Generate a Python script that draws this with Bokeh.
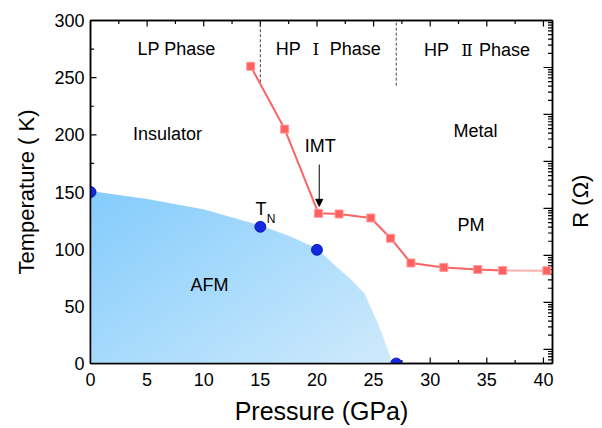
import math
import numpy as np
from bokeh.plotting import figure
from bokeh.layouts import row
from bokeh.models import (Range1d, LogScale, LogAxis, LinearAxis,
                          FixedTicker, Arrow, NormalHead, CustomJSTickFormatter)
from bokeh.core.properties import value
from bokeh.embed import file_html
from bokeh.resources import INLINE

# ---------------- data ----------------
# resistance (right, log axis)
pressure_R = [14.15, 17.15, 20.13, 21.95, 24.76, 26.5, 28.3, 31.2, 34.2, 36.4, 40.3]
resistance = [1.06e6, 4.88e4, 785, 762, 626, 232, 68.9, 55.5, 50.3, 47.9, 47.2]
# Neel temperature points
pressure_TN = [0, 15, 20, 27]
temp_TN = [150, 119.6, 99.4, 0]
# AFM region boundary
afm_P = [0, 5, 10, 15, 17.5, 20, 21.5, 23, 24.2, 25.5, 26.7]
afm_T = [150, 143, 134, 120, 111, 100, 86, 73, 61, 32, 0]
# phase boundaries (dashed lines)
phase_bounds = [15, 27]
phase_line_bottom = [246, 243]
phase_line_top = [300, 300]
# axis ticks
x_major = [0, 5, 10, 15, 20, 25, 30, 35, 40]
x_minor = [2.5, 7.5, 12.5, 17.5, 22.5, 27.5, 32.5, 37.5]
y_major = [0, 50, 100, 150, 200, 250, 300]
y_minor = [25, 75, 125, 175, 225, 275]
r_major = [1e0, 1e1, 1e2, 1e3, 1e4, 1e5, 1e6, 1e7]
# labels
label_text = ["LP Phase", "Insulator", "Metal", "IMT", "PM", "AFM"]
label_P = [7.6, 6.8, 34.0, 20.3, 33.6, 10.5]
label_T = [275, 201, 203, 190, 121, 69]
# phase names split around the roman numerals
hp_left_P = [18.57, 31.65]
hp_num_P = [19.9, 33.25]
hp_right_P = [21.13, 34.31]
hp_T = [275, 274]
hp_num = ["\u2160", "\u2161"]

FONT = "Liberation Sans"
X0, X1 = 0, 40.8
Y0, Y1 = 0, 300
R0, R1 = 0.5, 1e7
W, H = 560, 428
BL, BT, BR, BB = 90, 20, 8, 65
FW, FH = W - BL - BR, H - BT - BB
WR = 40   # strip holding the right axis title

p = figure(width=W, height=H,
           x_range=Range1d(X0, X1), y_range=Range1d(Y0, Y1),
           output_backend="svg", toolbar_location=None,
           min_border_left=BL, min_border_top=BT, min_border_right=BR, min_border_bottom=BB,
           background_fill_color="white", border_fill_color="white",
           outline_line_color="black", outline_line_width=1.5)
p.grid.visible = False

def style_axis(ax):
    ax.axis_line_width = 1.5
    ax.axis_line_color = "black"
    ax.major_tick_in = 0
    ax.major_tick_out = 0
    ax.minor_tick_in = 0
    ax.minor_tick_out = 0
    ax.major_label_text_font = FONT
    ax.major_label_text_font_size = "18px"
    ax.major_label_text_color = "black"
    ax.axis_label_text_font = FONT
    ax.axis_label_text_font_style = "normal"
    ax.axis_label_text_color = "black"

xa = p.xaxis[0]
xa.ticker = FixedTicker(ticks=x_major)
xa.axis_label = "Pressure (GPa)"
style_axis(xa)
xa.axis_label_text_font_size = "25px"
xa.major_label_standoff = 9
xa.axis_label_standoff = 8

ya = p.yaxis[0]
ya.ticker = FixedTicker(ticks=y_major)
ya.axis_label = "Temperature ( K)"
style_axis(ya)
ya.axis_label_text_font_size = "22px"
ya.major_label_standoff = 6
ya.axis_label_standoff = 12

top = LinearAxis(ticker=FixedTicker(ticks=x_major),
                 formatter=CustomJSTickFormatter(code="return ''"))
style_axis(top)
top.major_label_standoff = 0
p.add_layout(top, "above")

# right log axis for R
p.extra_y_ranges = {"R": Range1d(R0, R1)}
p.extra_y_scales = {"R": LogScale()}
ra = LogAxis(y_range_name="R", ticker=FixedTicker(ticks=r_major),
             formatter=CustomJSTickFormatter(code="return ''"))
style_axis(ra)
ra.major_label_standoff = 0
p.add_layout(ra, "right")

# ---------- inward ticks ----------
dx = (X1 - X0) / FW   # data units per pixel
dy = (Y1 - Y0) / FH
tick_kw = dict(line_color="black", line_width=1.2)
for vals, L in ((x_major, 6), (x_minor, 3.5)):
    p.segment(x0=vals, y0=[Y0] * len(vals), x1=vals, y1=[Y0 + L * dy] * len(vals), **tick_kw)
    p.segment(x0=vals, y0=[Y1] * len(vals), x1=vals, y1=[Y1 - L * dy] * len(vals), **tick_kw)
for vals, L in ((y_major, 6), (y_minor, 3.5)):
    p.segment(x0=[X0] * len(vals), y0=vals, x1=[X0 + L * dx] * len(vals), y1=vals, **tick_kw)
r_minor = [k * d for d in r_major[:-1] for k in range(2, 10)] + [0.5, 0.6, 0.7, 0.8, 0.9]
for vals, L in ((r_major, 9), (r_minor, 4.5)):
    p.segment(x0=[X1] * len(vals), y0=vals, x1=[X1 - L * dx] * len(vals), y1=vals,
              y_range_name="R", **tick_kw)

# ---------- AFM gradient region ----------
P_max = afm_P[-1]
nx, ny, ss = int(round(P_max / dx)), int(round(150 / dy)), 4
xs = (np.arange(nx * ss) + 0.5) / (nx * ss) * P_max
ys = (np.arange(ny * ss) + 0.5) / (ny * ss) * 150.0
X, Y = np.meshgrid(xs, ys)
bound = np.interp(X, afm_P, afm_T)
cov = (Y <= bound).astype(float).reshape(ny, ss, nx, ss).mean(axis=(1, 3))
Xc = X.reshape(ny, ss, nx, ss).mean(axis=(1, 3))
Yc = Y.reshape(ny, ss, nx, ss).mean(axis=(1, 3))
t = np.clip(0.55 * Xc / P_max + 0.45 * (1 - Yc / 150.0), 0, 1)
c0 = np.array([132, 204, 252])
c1 = np.array([208, 235, 252])
rgba = np.zeros((ny, nx, 4), dtype=np.uint8)
for i in range(3):
    rgba[..., i] = (c0[i] + (c1[i] - c0[i]) * t).astype(np.uint8)
rgba[..., 3] = (cov * 255).astype(np.uint8)
img = rgba.view(np.uint32).reshape(ny, nx)
p.image_rgba(image=[img], x=0, y=0, dw=P_max, dh=150)

# dashed phase boundaries
p.segment(x0=phase_bounds, y0=phase_line_bottom, x1=phase_bounds, y1=phase_line_top,
          line_color="#444444", line_width=1, line_dash="3 2")

# resistance curve
p.line(pressure_R[:10], resistance[:10], y_range_name="R", line_color="#fa6464", line_width=2)
p.line(pressure_R[9:], resistance[9:], y_range_name="R", line_color="#ffb0b0", line_width=2)
p.scatter(pressure_R, resistance, y_range_name="R", marker="square", size=8,
          fill_color="#ff6060", line_color="#ff9a9a", line_width=1)

# TN points
p.scatter(pressure_TN, temp_TN, marker="circle", size=11,
          fill_color="#1428e0", line_color="#0010a0", line_width=0.8)

# labels
txt = dict(text_font=value(FONT), text_font_size="18px", text_baseline="middle", text_color="black")
p.text(x=label_P, y=label_T, text=label_text, text_align="center", **txt)
p.text(x=hp_left_P, y=hp_T, text=["HP", "HP"], text_align="right", **txt)
p.text(x=hp_right_P, y=hp_T, text=["Phase", "Phase"], text_align="left", **txt)
p.text(x=hp_num_P, y=hp_T, text=hp_num, text_align="center", text_baseline="middle",
       text_font=value("DejaVu Serif"), text_font_size="17px", text_color="black")
p.text(x=[15.05], y=[135], text=["T"], text_align="center", **txt)
p.text(x=[15.95], y=[126.4], text=["N"], text_font=value(FONT), text_font_size="12px",
       text_align="center", text_baseline="middle", text_color="black")

# IMT arrow
p.add_layout(Arrow(end=NormalHead(size=7, fill_color="black", line_color="black", line_width=1),
                   x_start=20.2, y_start=174, x_end=20.2, y_end=137.5,
                   line_color="black", line_width=1))

# ---------- right axis title strip (reads bottom to top) ----------
q = figure(width=WR, height=H, x_range=Range1d(0, 1), y_range=Range1d(Y0, Y1),
           output_backend="svg", toolbar_location=None,
           x_axis_location=None, y_axis_location=None,
           min_border_left=0, min_border_right=0, min_border_top=BT, min_border_bottom=BB,
           outline_line_color=None, background_fill_color="white", border_fill_color="white")
q.grid.visible = False
q.text(x=[0.5], y=[142], text=["R (\u03a9)"], angle=math.pi / 2,
       text_font=value(FONT), text_font_size="22px", text_align="center",
       text_baseline="middle", text_color="black")

layout = row(p, q, spacing=0)
open("out.html", "w").write(file_html(layout, INLINE))
